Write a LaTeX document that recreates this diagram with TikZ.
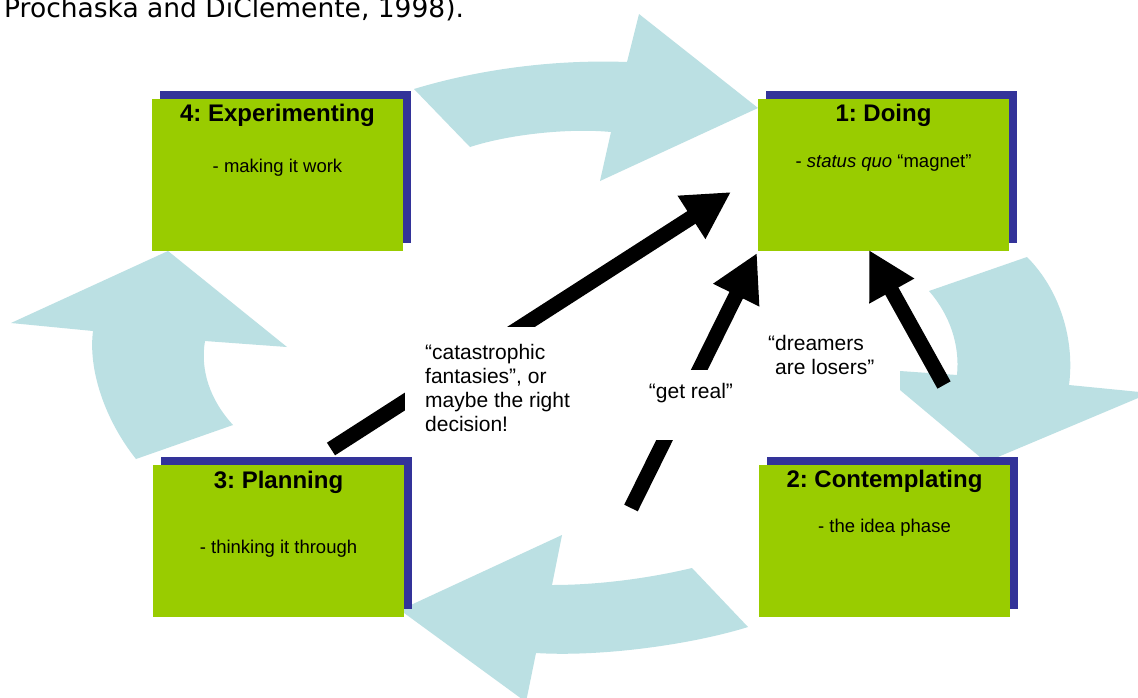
\documentclass[tikz,border=0pt]{standalone}
\usepackage{fontspec}
\setmainfont{Liberation Sans}
\newfontfamily\citefont{DejaVu Sans}
\usetikzlibrary{arrows.meta,shadows}
\frenchspacing

\definecolor{ringcyan}{RGB}{187,224,227}
\definecolor{stagegreen}{RGB}{153,204,0}
\definecolor{stageblue}{RGB}{51,51,153}

\tikzset{
  ring/.style={fill=ringcyan},
  stagebox/.style={fill=stagegreen, minimum width=251pt, minimum height=152pt,
    inner sep=0pt,
    general shadow={fill=stageblue, shadow xshift=8pt, shadow yshift=8pt}},
  stagetitle/.style={font=\fontsize{24}{28}\selectfont\bfseries, inner sep=0pt, anchor=base},
  stagenote/.style={font=\fontsize{18.5}{22}\selectfont, inner sep=0pt, anchor=base},
  push/.style={line width=15pt, -{Triangle[length=47pt,width=48pt]}},
  remark/.style={font=\fontsize{21}{24}\selectfont, align=left},
}

\begin{document}
\begin{tikzpicture}[x=1pt, y=-1pt]
\useasboundingbox (0,0) rectangle (1138,697);
\clip (0,0) rectangle (1138,697);
\fill[white] (0,0) rectangle (1138,697);

% citation line, cut at the top edge
\node[font=\citefont\fontsize{26.5}{30}\selectfont, anchor=base west, inner sep=0pt]
  (cite) at (4,17) {Prochaska and DiClemente, 1998).};

% the cycle of curved arrows
\fill[ring] (414,89) .. controls (470,72) and (545,59) .. (627,62)
  -- (639,14) -- (758,108) -- (600,181) -- (611,132)
  .. controls (570,128) and (510,134) .. (470,147) -- cycle;
\fill[ring] (1027,257) .. controls (1060,290) and (1075,340) .. (1069,385)
  -- (1150,393) -- (986,462) -- (900,390) -- (900,371) -- (957,375)
  .. controls (960,345) and (950,315) .. (929,291) -- cycle;
\fill[ring] (748,627) -- (692,568) .. controls (650,578) and (600,585) .. (552,585)
  -- (562,535) -- (400,610) -- (526,702) -- (536,653)
  .. controls (600,657) and (690,645) .. (748,627) -- cycle;
\fill[ring] (136,459) -- (233,425) .. controls (210,400) and (200,370) .. (205,341)
  -- (287,347) -- (168,251) -- (11,323) -- (93,331)
  .. controls (88,370) and (105,420) .. (136,459) -- cycle;

% stage boxes
\node[stagebox] (doing) at (883.5,175) {};
\node[stagebox] (experimenting) at (277.5,175) {};
\node[stagebox] (planning) at (278.5,541) {};
\node[stagebox] (contemplating) at (884.5,541) {};

\node[stagetitle] (doingT) at (883.5,121.6) {1: Doing};
\node[stagenote] (doingN) at (883.5,167) {- \textit{status quo} “magnet”};
\node[stagetitle] (experimentingT) at (277.5,121.6) {4: Experimenting};
\node[stagenote] (experimentingN) at (277.5,172) {- making it work};
\node[stagetitle] (planningT) at (278.5,488.6) {3: Planning};
\node[stagenote] (planningN) at (278.5,553) {- thinking it through};
\node[stagetitle] (contemplatingT) at (884.5,487.6) {2: Contemplating};
\node[stagenote] (contemplatingN) at (884.5,532) {- the idea phase};

% shortcuts back to doing
\coordinate (fearsTail) at (331,449);
\coordinate (fearsTip) at (731,192);
\coordinate (realTail) at (631,508);
\coordinate (realTip) at (757,253);
\coordinate (dreamTail) at (944,385);
\coordinate (dreamTip) at (869,250);
\draw[push] (fearsTail) -- (fearsTip);
\draw[push] (realTail) -- (realTip);
\draw[push] (dreamTail) -- (dreamTip);

% remarks on the shortcuts
\node[remark, fill=white, anchor=north west, inner xsep=20pt, inner ysep=17pt]
  (fears) at (405,327) {“catastrophic\\fantasies”, or\\maybe the right\\decision!};
\node[remark, fill=white, anchor=base, inner xsep=6pt, inner ysep=0pt,
  text height=28.5pt, text depth=41.5pt] (reality) at (691,398.5) {“get real”};
\node[remark, anchor=north west, inner sep=0pt]
  (losers) at (768,335) {“dreamers\\\hspace*{7pt}are losers”};
\end{tikzpicture}
\end{document}
